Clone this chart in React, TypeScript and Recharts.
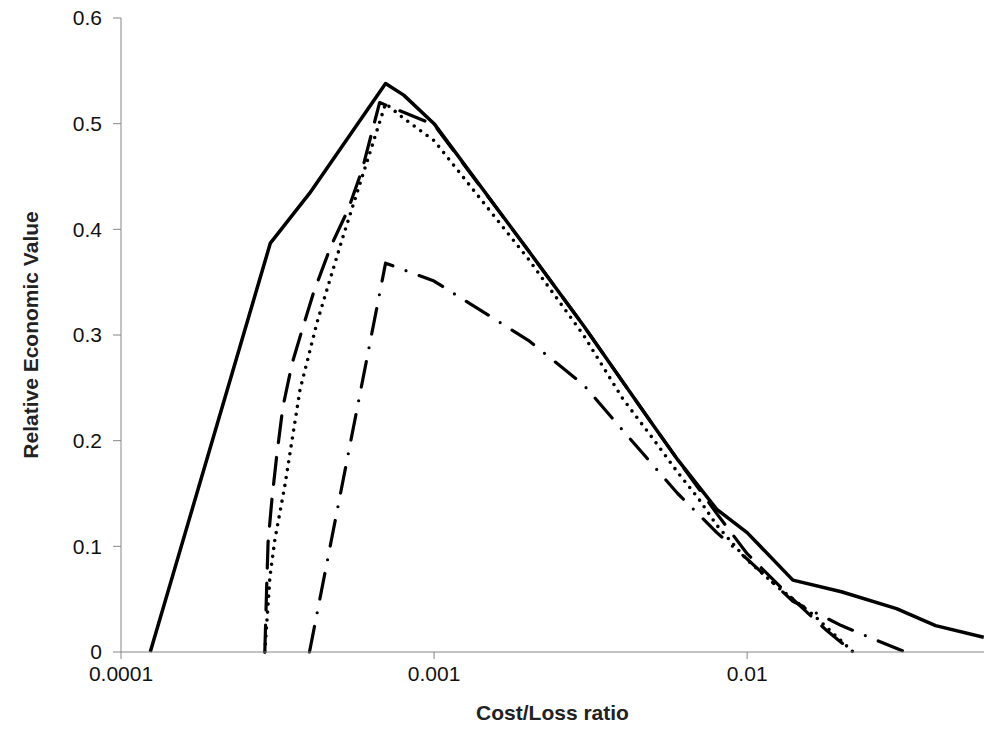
import { LineChart, Line, XAxis, YAxis, Label } from 'recharts';

// cost/loss ratios and relative value for each curve
const solidX = [0.000124, 0.0003, 0.0004, 0.0007, 0.0008, 0.001, 0.002, 0.003, 0.004, 0.005, 0.006, 0.008, 0.01, 0.014, 0.02, 0.03, 0.04, 0.057];
const solidY = [0, 0.387, 0.434, 0.538, 0.527, 0.5, 0.38, 0.309, 0.256, 0.215, 0.182, 0.135, 0.113, 0.068, 0.057, 0.041, 0.025, 0.014];

const dashX = [0.000288, 0.000292, 0.000295, 0.000304, 0.000315, 0.000329, 0.000352, 0.000379, 0.000412, 0.000468, 0.000532, 0.00059, 0.00067, 0.001, 0.002, 0.003, 0.004, 0.005, 0.006, 0.008, 0.01, 0.014, 0.018, 0.0218];
const dashY = [0, 0.062, 0.104, 0.147, 0.188, 0.232, 0.273, 0.305, 0.34, 0.384, 0.419, 0.457, 0.52, 0.499, 0.38, 0.309, 0.256, 0.215, 0.182, 0.131, 0.093, 0.05, 0.02, 0];

const dotX = [0.000288, 0.000299, 0.00031, 0.000334, 0.000373, 0.000423, 0.000508, 0.0007, 0.0008, 0.001, 0.002, 0.003, 0.004, 0.005, 0.006, 0.007, 0.008, 0.01, 0.0127, 0.0163, 0.0218];
const dotY = [0, 0.071, 0.106, 0.158, 0.248, 0.312, 0.39, 0.519, 0.505, 0.484, 0.372, 0.3, 0.24, 0.202, 0.17, 0.145, 0.12, 0.087, 0.06, 0.035, 0];

const dashDotX = [0.0004, 0.0007, 0.001, 0.002, 0.003, 0.004, 0.006, 0.008, 0.01, 0.014, 0.02, 0.025, 0.032];
const dashDotY = [0, 0.368, 0.351, 0.295, 0.253, 0.21, 0.15, 0.113, 0.088, 0.048, 0.025, 0.013, 0];

const xTicks = [0.0001, 0.001, 0.01];
const yTicks = [0, 0.1, 0.2, 0.3, 0.4, 0.5, 0.6];

const toPoints = (xs: number[], ys: number[]) => xs.map((x, i) => ({ x, v: ys[i] }));

const FONT = '"Liberation Sans", Arial, sans-serif';
const AXIS = '#868686';

export default function App() {
  const series = [
    { key: 'solid', data: toPoints(solidX, solidY), dash: undefined, width: 3.5 },
    { key: 'dash', data: toPoints(dashX, dashY), dash: '27 15', width: 3.2 },
    { key: 'dot', data: toPoints(dotX, dotY), dash: '0 8', width: 3.6 },
    { key: 'dashdot', data: toPoints(dashDotX, dashDotY), dash: '26 14 0 14', width: 3.2 },
  ];

  return (
    <div style={{ position: 'absolute', left: 0, top: 0, background: '#fff' }}>
      <LineChart width={984} height={729} margin={{ top: 18, right: 0, bottom: 37, left: 0 }}>
        <XAxis
          dataKey="x"
          type="number"
          scale="log"
          domain={[0.0001, 0.0571]}
          allowDataOverflow
          ticks={xTicks}
          tickFormatter={(v: number) => String(v)}
          height={40}
          stroke={AXIS}
          tickSize={7}
          tickMargin={7}
          tick={{ fill: '#111', fontSize: 21, fontFamily: FONT }}
        >
          <Label
            content={({ viewBox }: any) => (
              <text
                x={viewBox.x + viewBox.width / 2}
                y={712}
                textAnchor="middle"
                dominantBaseline="central"
                style={{ fontFamily: FONT, fontSize: 21, fontWeight: 'bold', fill: '#222' }}
              >
                Cost/Loss ratio
              </text>
            )}
          />
        </XAxis>
        <YAxis
          type="number"
          domain={[0, 0.6]}
          ticks={yTicks}
          width={121}
          stroke={AXIS}
          tickSize={8}
          tickMargin={11}
          tick={{ fill: '#111', fontSize: 21, fontFamily: FONT }}
        >
          <Label
            content={({ viewBox }: any) => {
              const cx = 30;
              const cy = viewBox.y + viewBox.height / 2;
              return (
                <text
                  x={cx}
                  y={cy}
                  transform={`rotate(-90 ${cx} ${cy})`}
                  textAnchor="middle"
                  dominantBaseline="central"
                  style={{ fontFamily: FONT, fontSize: 21, fontWeight: 'bold', fill: '#222' }}
                >
                  Relative Economic Value
                </text>
              );
            }}
          />
        </YAxis>
        {series.map((s) => (
          <Line
            key={s.key}
            data={s.data}
            dataKey="v"
            type="linear"
            stroke="#000"
            strokeWidth={s.width}
            strokeDasharray={s.dash}
            strokeLinecap={s.dash ? 'round' : 'butt'}
            strokeLinejoin="round"
            dot={false}
            activeDot={false}
            isAnimationActive={false}
          />
        ))}
      </LineChart>
    </div>
  );
}
